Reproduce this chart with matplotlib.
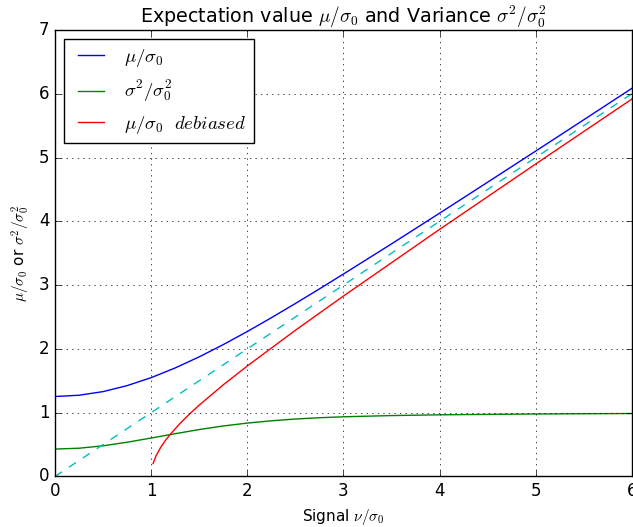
import matplotlib
matplotlib.use("Agg")
import matplotlib.pyplot as plt

plt.style.use("classic")

# signal nu/sigma0 and the Rice expectation value / variance
nu = [0.0, 0.25, 0.5, 0.75, 1.0, 1.25, 1.5, 1.75, 2.0, 2.25, 2.5, 2.75,
      3.0, 3.5, 4.0, 4.5, 5.0, 5.5, 6.0]
mean = [1.253, 1.273, 1.330, 1.424, 1.549, 1.701, 1.875, 2.067, 2.272,
        2.488, 2.711, 2.940, 3.173, 3.646, 4.127, 4.613, 5.101, 5.592, 6.084]
variance = [0.429, 0.442, 0.480, 0.536, 0.602, 0.670, 0.735, 0.791, 0.836,
            0.872, 0.900, 0.920, 0.935, 0.954, 0.966, 0.973, 0.979, 0.983,
            0.986]

# debiased estimate
deb_x = [1.02, 1.05, 1.1, 1.15, 1.2, 1.3, 1.4, 1.5, 1.75, 2.0, 2.5, 3.0,
         4.0, 5.0, 6.0]
deb_y = [0.201, 0.320, 0.458, 0.568, 0.663, 0.831, 0.980, 1.118, 1.436,
         1.732, 2.291, 2.828, 3.873, 4.899, 5.916]

# identity reference line
ident_x = [0.0, 6.0]
ident_y = [0.0, 6.0]

fig = plt.figure(figsize=(6.33, 5.27), dpi=100, facecolor="white")
ax = fig.add_axes([0.087, 0.096, 0.911, 0.847])

ax.plot(nu, mean, color="b", label=r"$\mu/\sigma_0$")
ax.plot(nu, variance, color="g", label=r"$\sigma^2/\sigma_0^2$")
ax.plot(deb_x, deb_y, color="r", label=r"$\mu/\sigma_0\ \ debiased$")
ax.plot(ident_x, ident_y, color="c", linestyle="--")

ax.set_xlim(0, 6)
ax.set_ylim(0, 7)
ax.grid(True)
ax.set_title(r"Expectation value $\mu/\sigma_0$ and Variance $\sigma^2/\sigma_0^2$",
             fontsize=13.8)
ax.set_xlabel(r"Signal $\nu/\sigma_0$", fontsize=11)
ax.set_ylabel(r"$\mu/\sigma_0$ or $\sigma^2/\sigma_0^2$", fontsize=11)
ax.tick_params(labelsize=12)
ax.legend(loc="upper left", fontsize=13.5)

fig.savefig("out.png", dpi=100, facecolor="white")
